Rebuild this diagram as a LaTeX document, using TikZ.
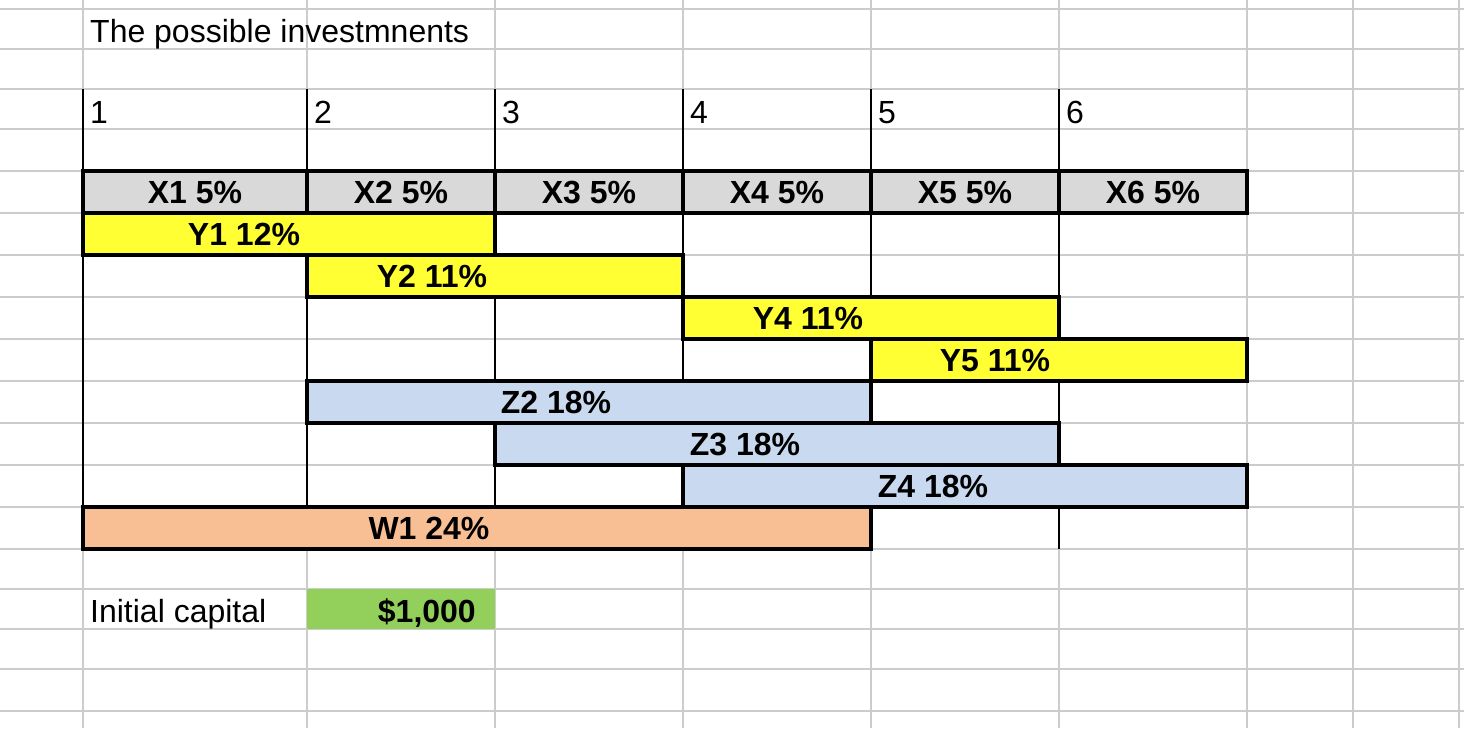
\documentclass[tikz,border=0pt]{standalone}
\usepackage{fontspec}
\setmainfont{Liberation Sans}
\definecolor{gridgray}{HTML}{CCCCCC}
\definecolor{cellgray}{HTML}{D9D9D9}
\definecolor{ybar}{HTML}{FFFF33}
\definecolor{zbar}{HTML}{C9DAF0}
\definecolor{wbar}{HTML}{F8BF95}
\definecolor{money}{HTML}{93CF5B}
\tikzset{
  sheetline/.style={draw=gridgray,line width=2pt},
  invbox/.style={draw=black,line width=4pt},
  lbl/.style={inner sep=0pt,anchor=base,font=\fontsize{32}{38}\selectfont\bfseries},
  txt/.style={inner sep=0pt,anchor=base west,font=\fontsize{32}{38}\selectfont}
}

\begin{document}
\begin{tikzpicture}[x=1pt,y=-1pt]
\useasboundingbox (0,0) rectangle (1464,728);
% spreadsheet grid
\foreach \gx in {83,307,495,683,871,1059,1247,1353,1459}
  \draw[sheetline] (\gx,0) -- (\gx,728);
\foreach \gy in {9,49,89,129,171,213,255,297,339,381,423,465,507,549,589,629,669,711}
  \draw[sheetline] (0,\gy) -- (1464,\gy);
% period columns
\foreach \gx in {83,307,495,683,871,1059}
  \draw[line width=2pt] (\gx,89) -- (\gx,549);
\node[txt] (title) at (90,42) {The possible investmnents};
\foreach \i/\gx in {1/83,2/307,3/495,4/683,5/871,6/1059}
  \node[txt] (p\i) at (\gx+7,123) {\i};
% one-period investments
\foreach \i/\xa/\xb in {1/83/307,2/307/495,3/495/683,4/683/871,5/871/1059,6/1059/1247}{
  \draw[invbox,fill=cellgray] (\xa,171) rectangle (\xb,213);
  \node[lbl] (x\i) at ({(\xa+\xb)/2},203) {X\i{} 5\%};
}
% two-period investments
\draw[invbox,fill=ybar] (83,213) rectangle (495,255);
\draw[invbox,fill=ybar] (307,255) rectangle (683,297);
\draw[invbox,fill=ybar] (683,297) rectangle (1059,339);
\draw[invbox,fill=ybar] (871,339) rectangle (1247,381);
\node[lbl] (y1) at (244,245) {Y1 12\%};
\node[lbl] (y2) at (432,287) {Y2 11\%};
\node[lbl] (y4) at (808,329) {Y4 11\%};
\node[lbl] (y5) at (995,371) {Y5 11\%};
% three-period investments
\draw[invbox,fill=zbar] (307,381) rectangle (871,423);
\draw[invbox,fill=zbar] (495,423) rectangle (1059,465);
\draw[invbox,fill=zbar] (683,465) rectangle (1247,507);
\node[lbl] (z2) at (556,413) {Z2 18\%};
\node[lbl] (z3) at (745,455) {Z3 18\%};
\node[lbl] (z4) at (933,497) {Z4 18\%};
% four-period investment
\draw[invbox,fill=wbar] (83,507) rectangle (871,549);
\node[lbl] (w1) at (429,539) {W1 24\%};
% capital
\fill[money] (307,589) rectangle (495,629);
\node[txt] (cap) at (90,622) {Initial capital};
\node[lbl,anchor=base east] (amount) at (476,622) {\$1,000};
\end{tikzpicture}
\end{document}
